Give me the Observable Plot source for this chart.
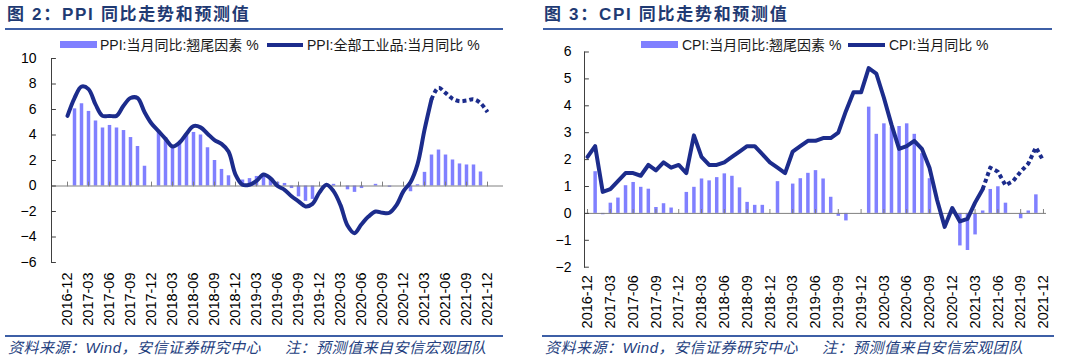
<!DOCTYPE html>
<html>
<head>
<meta charset="utf-8">
<script src="https://cdn.jsdelivr.net/npm/d3@7"></script>
<script src="https://cdn.jsdelivr.net/npm/@observablehq/plot@0.6"></script>
<style>
  html, body { margin: 0; padding: 0; background: #fff; }
  body { width: 1080px; height: 361px; position: relative; overflow: hidden;
         font-family: "Liberation Sans", Arial, "Noto Sans CJK SC", sans-serif; }
  .panel { position: absolute; top: 0; width: 540px; height: 361px; }
  .title { position: absolute; top: 4px; line-height: 21px; font-size: 17px; font-weight: bold;
           color: #1f3a73; letter-spacing: 1.7px; white-space: nowrap;
           font-family: "Liberation Sans", Arial, "Noto Sans CJK SC", sans-serif; }
  .rule { position: absolute; height: 2px; background: #3d5fa6; }
  .sw { position: absolute; }
  .lg { position: absolute; top: 36px; line-height: 18px; font-size: 14px; color: #1a1a1a; white-space: nowrap; }
  .chart { position: absolute; left: 0; top: 30px; width: 540px; height: 305px; }
  .src { position: absolute; top: 339px; line-height: 18px; font-size: 15px; font-style: italic;
         letter-spacing: 0.5px; color: #24407e; white-space: nowrap; }
</style>
</head>
<body>
<div class="panel" style="left:0px">
  <div class="title" style="left:7px">图 2：PPI 同比走势和预测值</div>
  <div class="rule" style="left:5px;width:498px;top:28px"></div>
  <div class="sw" style="left:60px;top:41px;width:37px;height:7px;background:#8080ff"></div>
  <div class="lg" id="l1a" style="left:100px"></div>
  <div class="sw" style="left:267px;top:42.5px;width:36px;height:4px;background:#1c2c8c"></div>
  <div class="lg" id="l1b" style="left:307px"></div>
  <div class="chart" id="c1"></div>
  <div class="rule" style="left:5px;width:498px;top:335px"></div>
  <div class="src" style="left:8px">资料来源：Wind，安信证券研究中心</div>
  <div class="src" style="left:285px">注：预测值来自安信宏观团队</div>
</div>
<div class="panel" style="left:540px">
  <div class="title" style="left:4px">图 3：CPI 同比走势和预测值</div>
  <div class="rule" style="left:3px;width:509px;top:28px"></div>
  <div class="sw" style="left:101px;top:41px;width:37px;height:7px;background:#8080ff"></div>
  <div class="lg" id="l2a" style="left:142px"></div>
  <div class="sw" style="left:308px;top:42.5px;width:37px;height:4px;background:#1c2c8c"></div>
  <div class="lg" id="l2b" style="left:349px"></div>
  <div class="chart" id="c2"></div>
  <div class="rule" style="left:2px;width:512px;top:335px"></div>
  <div class="src" style="left:5px">资料来源：Wind，安信证券研究中心</div>
  <div class="src" style="left:282px">注：预测值来自安信宏观团队</div>
</div>
<script>
const months = [
  "2016-12",
  "2017-01","2017-02","2017-03","2017-04","2017-05","2017-06","2017-07","2017-08","2017-09","2017-10","2017-11","2017-12",
  "2018-01","2018-02","2018-03","2018-04","2018-05","2018-06","2018-07","2018-08","2018-09","2018-10","2018-11","2018-12",
  "2019-01","2019-02","2019-03","2019-04","2019-05","2019-06","2019-07","2019-08","2019-09","2019-10","2019-11","2019-12",
  "2020-01","2020-02","2020-03","2020-04","2020-05","2020-06","2020-07","2020-08","2020-09","2020-10","2020-11","2020-12",
  "2021-01","2021-02","2021-03","2021-04","2021-05","2021-06","2021-07","2021-08","2021-09","2021-10","2021-11","2021-12"
];
const tickMonths = ["2016-12","2017-03","2017-06","2017-09","2017-12","2018-03","2018-06","2018-09","2018-12",
  "2019-03","2019-06","2019-09","2019-12","2020-03","2020-06","2020-09","2020-12","2021-03","2021-06","2021-09","2021-12"];
const forecastFrom = "2021-04";

const ppiCarry = [0,
  6.05, 6.45, 5.85, 5.1, 4.55, 4.75, 4.55, 4.35, 3.8, 3.1, 1.55, 0,
  4.25, 3.8, 3.2, 3.5, 4.0, 4.2, 4.0, 3.0, 2.0, 1.3, 0.8, 0,
  0.47, 0.58, 0.75, 0.85, 0.5, 0.3, 0.2, -0.2, -0.85, -1.2, -1.05, 0,
  0, 0.13, 0, -0.3, -0.5, -0.2, 0, 0.13, 0, -0.1, 0, 0,
  -0.45, 0.1, 1.07, 2.43, 2.82, 2.43, 2.04, 1.73, 1.65, 1.65, 1.1, 0];
const ppiYoY = [5.5,
  6.9, 7.8, 7.6, 6.4, 5.5, 5.5, 5.5, 6.3, 6.9, 6.9, 5.8, 4.9,
  4.3, 3.7, 3.1, 3.4, 4.1, 4.7, 4.6, 4.1, 3.6, 3.3, 2.7, 0.9,
  0.1, 0.1, 0.4, 0.9, 0.6, 0.0, -0.3, -0.8, -1.2, -1.6, -1.4, -0.5,
  0.1, -0.4, -1.5, -3.1, -3.7, -3.0, -2.4, -2.0, -2.1, -2.1, -1.5, -0.4,
  0.3, 1.7, 4.4, 6.8, 7.7, 7.3, 6.85, 6.65, 6.7, 6.8, 6.5, 5.8];
const cpiCarry = [0,
  1.55, -0.05, 0.38, 0.57, 1.03, 1.15, 0.97, 0.9, 0.22, 0.36, 0.2, 0,
  0.78, 0.97, 1.28, 1.21, 1.33, 1.47, 1.38, 0.95, 0.41, 0.3, 0.3, 0,
  1.18, 0, 1.09, 1.29, 1.49, 1.59, 1.28, 0.6, -0.11, -0.28, 0, 0,
  3.95, 2.94, 3.33, 3.2, 3.23, 3.33, 2.94, 2.22, 1.29, 0, 0, 0,
  -1.21, -1.38, -0.8, 0.09, 0.89, 0.99, 0.38, 0, -0.2, 0.09, 0.69, 0];
const cpiYoY = [2.1,
  2.5, 0.8, 0.9, 1.2, 1.5, 1.5, 1.4, 1.8, 1.6, 1.9, 1.7, 1.8,
  1.5, 2.9, 2.1, 1.8, 1.8, 1.9, 2.1, 2.3, 2.5, 2.5, 2.2, 1.9,
  1.7, 1.5, 2.3, 2.5, 2.7, 2.7, 2.8, 2.8, 3.0, 3.8, 4.5, 4.5,
  5.4, 5.2, 4.3, 3.3, 2.4, 2.5, 2.7, 2.4, 1.7, 0.5, -0.5, 0.2,
  -0.3, -0.2, 0.4, 0.9, 1.7, 1.55, 1.05, 1.2, 1.55, 1.85, 2.45, 1.95];

const ppiTicks = [-6, -4, -2, 0, 2, 4, 6, 8, 10];
const cpiTicks = [-2, -1, 0, 1, 2, 3, 4, 5, 6];

const legendNames = {
  ppiBar: "PPI:当月同比:翘尾因素 %",
  ppiLine: "PPI:全部工业品:当月同比 %",
  cpiBar: "CPI:当月同比:翘尾因素 %",
  cpiLine: "CPI:当月同比 %"
};
document.getElementById("l1a").textContent = legendNames.ppiBar;
document.getElementById("l1b").textContent = legendNames.ppiLine;
document.getElementById("l2a").textContent = legendNames.cpiBar;
document.getElementById("l2b").textContent = legendNames.cpiLine;

const navy = "#1c2c8c";
const barColor = "#8080ff";
const tickShape = { draw(ctx, l) { ctx.moveTo(0, 0); ctx.lineTo(0, -l); } };

function chart(cfg) {
  const k = months.indexOf(forecastFrom);
  const bars = months.map((m, i) => ({m, v: cfg.bars[i]})).filter(d => d.v !== 0);
  const line = months.map((m, i) => ({m, v: cfg.line[i]}));
  const solid = line.slice(0, k + 1);
  const dotted = line.slice(k);
  return Plot.plot({
    width: 540, height: 305,
    marginTop: cfg.mt, marginBottom: cfg.mb, marginLeft: cfg.ml, marginRight: cfg.mr,
    style: {fontFamily: '"Liberation Sans", Arial, sans-serif', fontSize: "14px", color: "#000", background: "transparent", overflow: "visible"},
    x: {type: "point", domain: months, padding: cfg.pad},
    y: {domain: cfg.yDomain},
    marks: [
      Plot.ruleX(bars, {x: "m", y1: 0, y2: "v", stroke: barColor, strokeWidth: 3.5}),
      Plot.ruleY([0], {stroke: "#808080", strokeWidth: 1}),
      Plot.vector(tickMonths, {x: d => d, y: 0, length: 4, rotate: 0, anchor: "start", shape: tickShape, stroke: "#808080", strokeWidth: 1}),
      Plot.frame({anchor: "left", stroke: "#404040"}),
      Plot.vector(cfg.yTicks, {y: d => d, frameAnchor: "left", length: 4, rotate: 90, anchor: "start", shape: tickShape, stroke: "#404040", strokeWidth: 1}),
      Plot.axisY({ticks: cfg.yTicks, tickSize: 0, tickPadding: cfg.yPad, label: null, fontSize: 14, fill: "#000"}),
      Plot.axisX({ticks: tickMonths, tickRotate: -90, tickSize: 0, tickPadding: cfg.xPad, label: null, fontSize: 14.5, fill: "#000"}),
      Plot.line(solid, {x: "m", y: "v", stroke: navy, strokeWidth: 4, curve: cfg.curve}),
      Plot.line(dotted, {x: "m", y: "v", stroke: navy, strokeWidth: 4, curve: cfg.curve, strokeDasharray: "4 3", strokeLinecap: "butt"})
    ]
  });
}

document.getElementById("c1").appendChild(chart({
  bars: ppiCarry, line: ppiYoY, yDomain: [-6, 10], yTicks: ppiTicks,
  mt: 28, mb: 73, ml: 51, mr: 37, pad: 0.34, yPad: 15, xPad: 10, curve: "catmull-rom"
}));
document.getElementById("c2").appendChild(chart({
  bars: cpiCarry, line: cpiYoY, yDomain: [-2, 6], yTicks: cpiTicks,
  mt: 21.5, mb: 68.3, ml: 44, mr: 34, pad: 0.4, yPad: 13, xPad: 8, curve: "linear"
}));
</script>
</body>
</html>
